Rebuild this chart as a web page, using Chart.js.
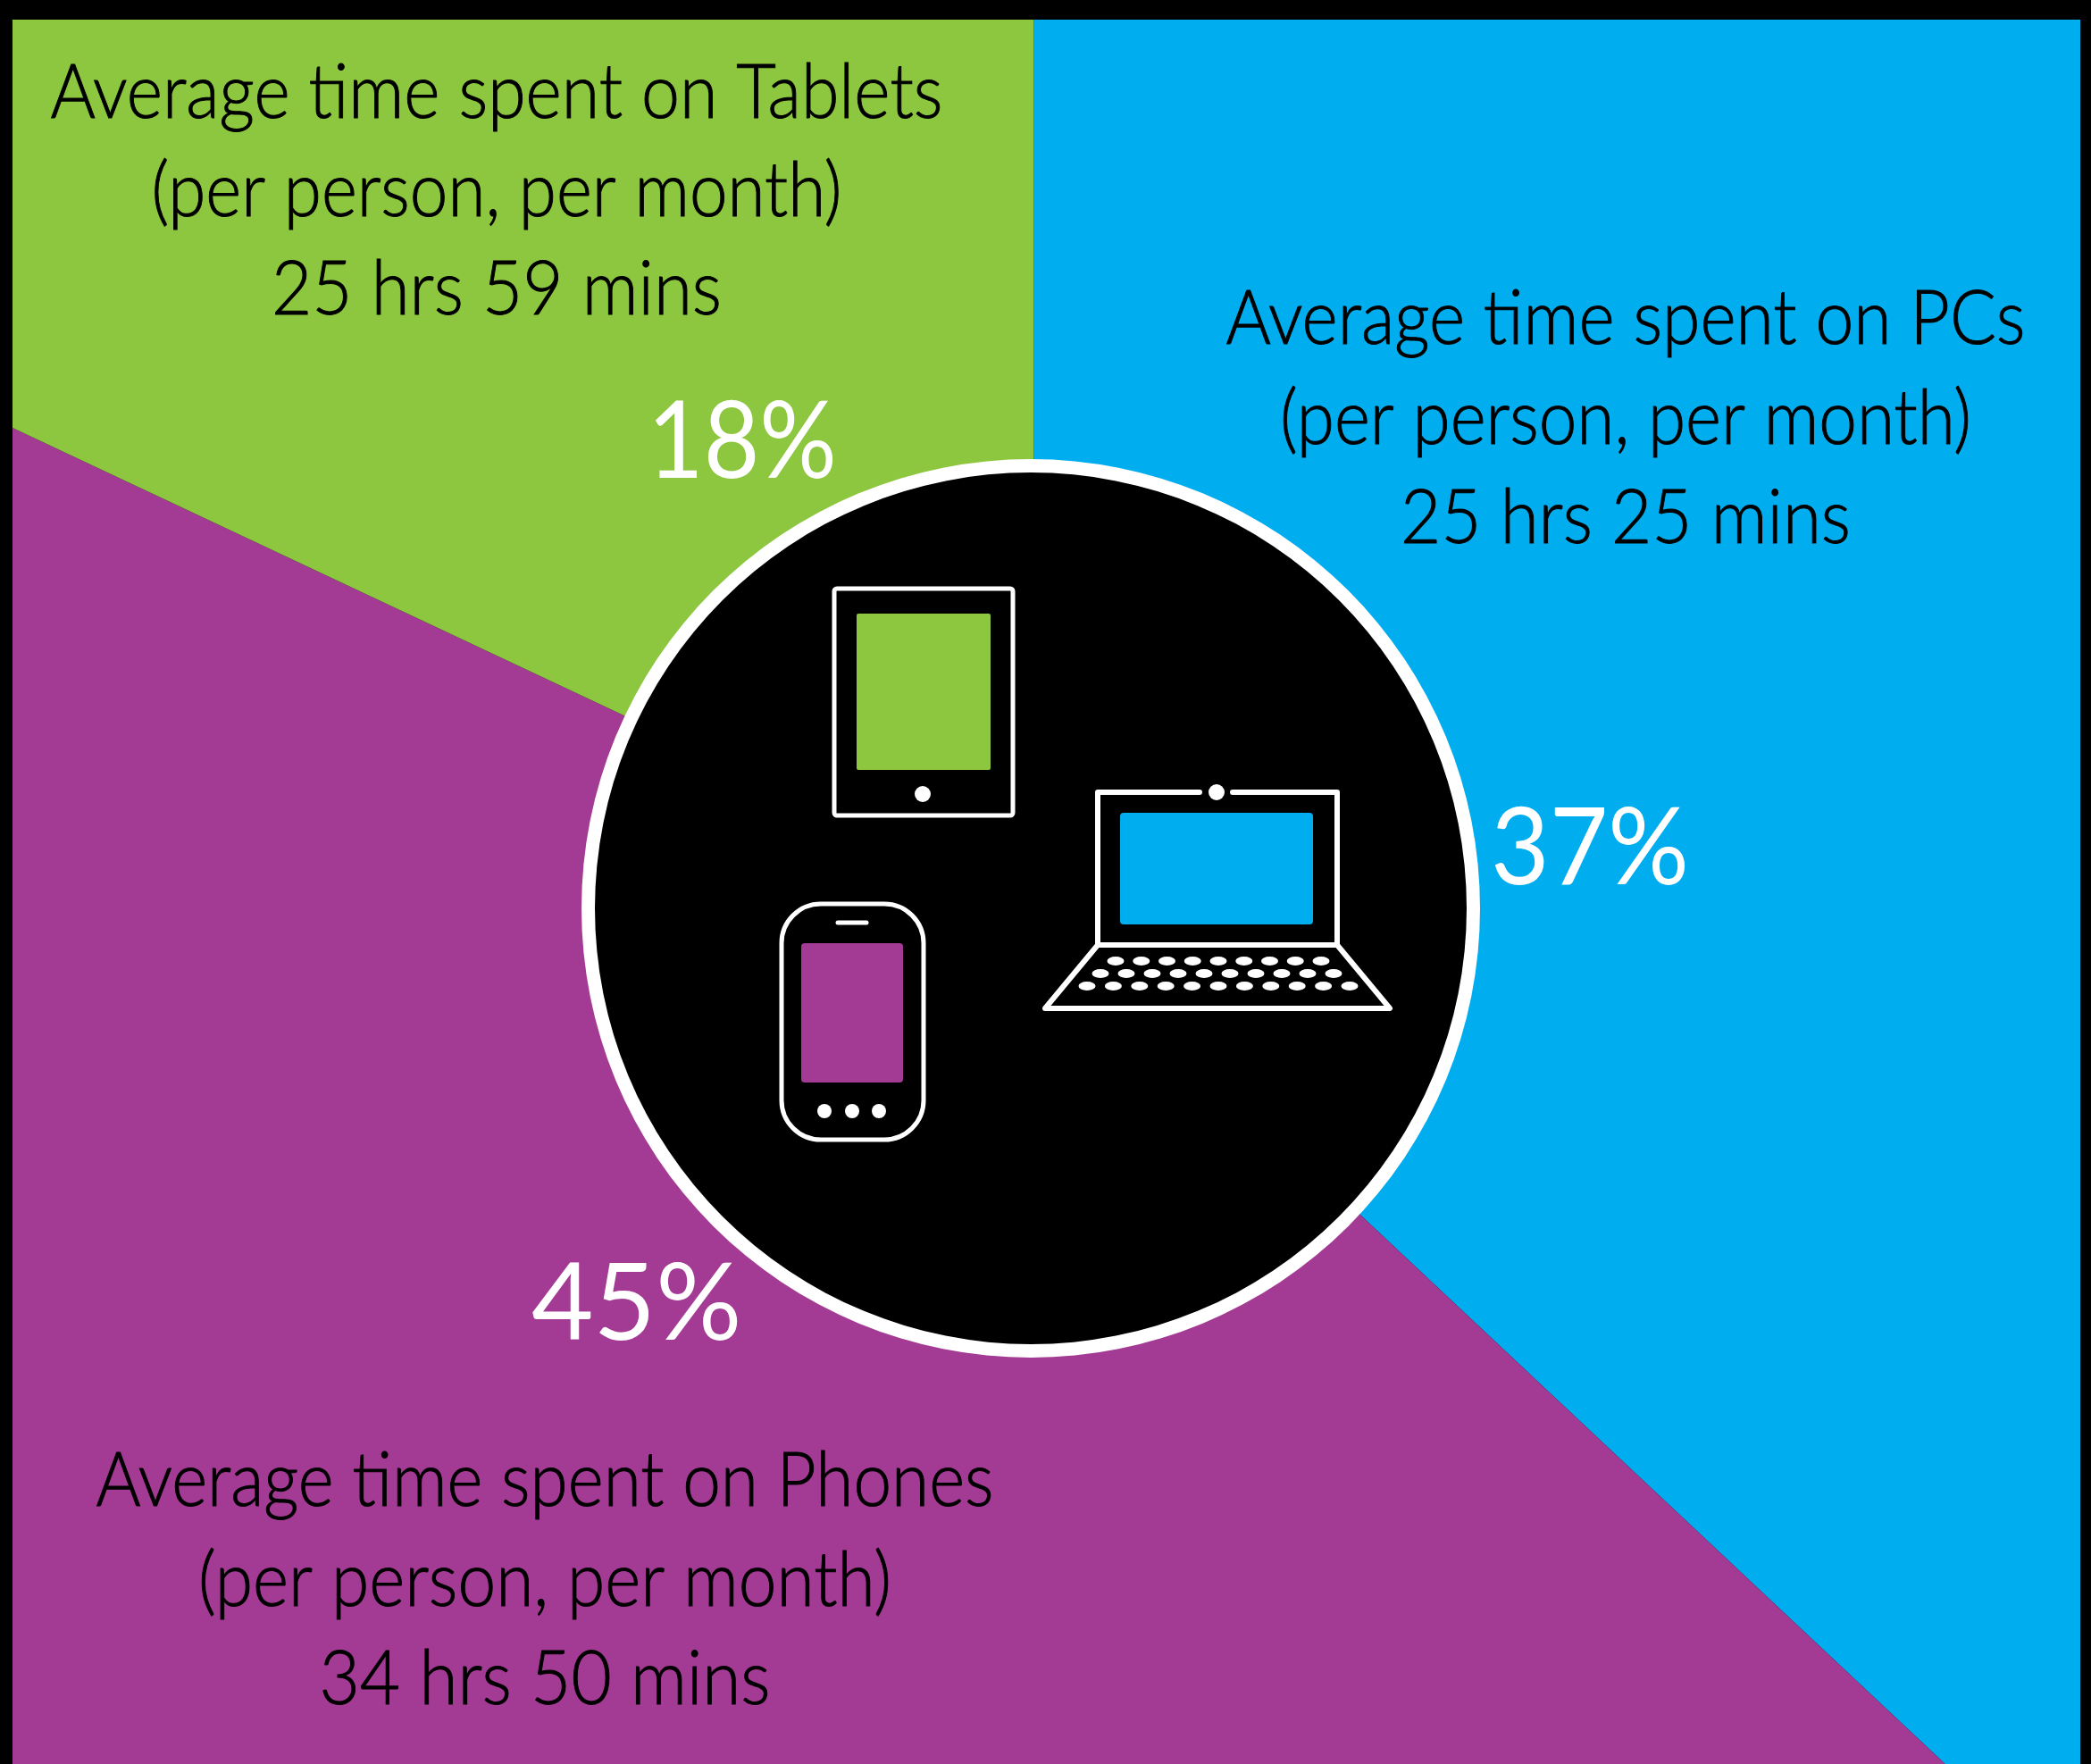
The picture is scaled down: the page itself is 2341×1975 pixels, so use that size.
<!DOCTYPE html>
<html>
<head>
<meta charset="utf-8">
<title>Average time spent per device</title>
<script src="https://cdn.jsdelivr.net/npm/chart.js@4"></script>
<style>
  html, body { margin: 0; padding: 0; background: #000; overflow: hidden; }
  #devices { position: absolute; left: 14px; top: 22px; }
</style>
</head>
<body>
<canvas id="devices" width="2315" height="1953"></canvas>
<script>
// share of time per device, clockwise from 12 o'clock
const devices = ['PCs', 'Phones', 'Tablets'];
const shares = [37, 45, 18];
const timeSpent = ['25 hrs 25 mins', '34 hrs 50 mins', '25 hrs 59 mins'];
const sliceColors = ['#00adef', '#a33a93', '#8dc63f'];

// caption block per device: centre x, the three baselines, fitted line widths
const captionPos = [
    { x: 1820, y: [385, 497, 608], w: [895, 774, 504] },
    { x: 610, y: [1686, 1798, 1908], w: [1005, 776, 505] },
    { x: 556, y: [132, 242, 352], w: [999, 773, 504] }
];
// percent labels: left edge, baseline, fitted width
const percentPos = [
    { x: 1669, y: 990, w: 222 },
    { x: 595, y: 1500, w: 236 },
    { x: 725, y: 535, w: 212 }
];

const FONT = 'Lato, sans-serif';

function roundRect(ctx, x0, y0, x1, y1, r) {
    ctx.beginPath();
    ctx.roundRect(x0, y0, x1 - x0, y1 - y0, r);
}

function dot(ctx, x, y, r) {
    ctx.beginPath();
    ctx.arc(x, y, r, 0, Math.PI * 2);
    ctx.fill();
}

function drawTablet(ctx) {
    ctx.lineWidth = 5;
    roundRect(ctx, 934, 659, 1134, 913, 3);
    ctx.stroke();
    ctx.fillStyle = sliceColors[2];
    roundRect(ctx, 959, 687, 1109, 862, 2);
    ctx.fill();
    ctx.fillStyle = '#fff';
    dot(ctx, 1033, 889, 9);
}

function drawPhone(ctx) {
    ctx.lineWidth = 5;
    roundRect(ctx, 875, 1012, 1034, 1276, 44);
    ctx.stroke();
    ctx.lineCap = 'round';
    ctx.beginPath();
    ctx.moveTo(938, 1033);
    ctx.lineTo(970, 1033);
    ctx.stroke();
    ctx.fillStyle = sliceColors[1];
    roundRect(ctx, 897, 1056, 1011, 1212, 4);
    ctx.fill();
    ctx.fillStyle = '#fff';
    [923, 954, 984].forEach(function (x) { dot(ctx, x, 1244, 8); });
}

function drawLaptop(ctx) {
    ctx.lineWidth = 6;
    ctx.lineJoin = 'round';
    ctx.lineCap = 'round';
    // lid, broken around the camera
    ctx.beginPath();
    ctx.moveTo(1343, 887);
    ctx.lineTo(1229, 887);
    ctx.lineTo(1229, 1058);
    ctx.moveTo(1380, 887);
    ctx.lineTo(1497, 887);
    ctx.lineTo(1497, 1058);
    ctx.stroke();
    // base
    ctx.beginPath();
    ctx.moveTo(1229, 1058);
    ctx.lineTo(1497, 1058);
    ctx.lineTo(1556, 1129);
    ctx.lineTo(1170, 1129);
    ctx.closePath();
    ctx.stroke();
    ctx.fillStyle = sliceColors[0];
    roundRect(ctx, 1254, 910, 1470, 1035, 4);
    ctx.fill();
    ctx.fillStyle = '#fff';
    dot(ctx, 1362, 887, 9);
    // keyboard rows
    [[1076, 9, 1249, 1479], [1090, 10, 1232, 1493], [1104, 11, 1217, 1511]].forEach(function (row) {
        for (let i = 0; i < row[1]; i++) {
            const x = row[2] + (row[3] - row[2]) * i / (row[1] - 1);
            ctx.beginPath();
            ctx.ellipse(x, row[0], 9.5, 5, 0, 0, Math.PI * 2);
            ctx.fill();
        }
    });
}

// black disc with the device icons and all the text on top of the pie
const overlay = {
    id: 'overlay',
    afterDatasetsDraw: function (chart) {
        const ctx = chart.ctx;

        ctx.save();
        // laid out in page coordinates, the canvas sits inside a black frame
        ctx.translate(-14, -22);
        ctx.fillStyle = '#fff';
        ctx.beginPath();
        ctx.arc(1154, 1017, 503, 0, Math.PI * 2);
        ctx.fill();
        ctx.fillStyle = '#000';
        ctx.beginPath();
        ctx.arc(1154, 1017, 488, 0, Math.PI * 2);
        ctx.fill();

        ctx.strokeStyle = '#fff';
        ctx.fillStyle = '#fff';
        drawTablet(ctx);
        ctx.save();
        drawPhone(ctx);
        ctx.restore();
        ctx.save();
        drawLaptop(ctx);
        ctx.restore();

        ctx.textBaseline = 'alphabetic';
        devices.forEach(function (device, i) {
            const lines = ['Average time spent on ' + device, '(per person, per month)', timeSpent[i]];
            const pos = captionPos[i];
            ctx.font = '300 84px ' + FONT;
            ctx.fillStyle = '#000';
            ctx.strokeStyle = '#000';
            ctx.lineWidth = 1;
            ctx.textAlign = 'center';
            lines.forEach(function (line, j) {
                ctx.fillText(line, pos.x, pos.y[j], pos.w[j]);
                ctx.strokeText(line, pos.x, pos.y[j], pos.w[j]);
            });

            ctx.font = '400 120px ' + FONT;
            ctx.fillStyle = '#fff';
            ctx.textAlign = 'left';
            ctx.fillText(shares[i] + '%', percentPos[i].x, percentPos[i].y, percentPos[i].w);
        });
        ctx.restore();
    }
};

new Chart(document.getElementById('devices'), {
    type: 'pie',
    data: {
        labels: devices,
        datasets: [{
            data: shares,
            backgroundColor: sliceColors,
            borderWidth: 0,
            radius: 2400
        }]
    },
    options: {
        responsive: false,
        animation: false,
        layout: { padding: { top: 37, right: 28 } },
        plugins: {
            legend: { display: false },
            tooltip: { enabled: false }
        }
    },
    plugins: [overlay]
});
</script>
</body>
</html>
